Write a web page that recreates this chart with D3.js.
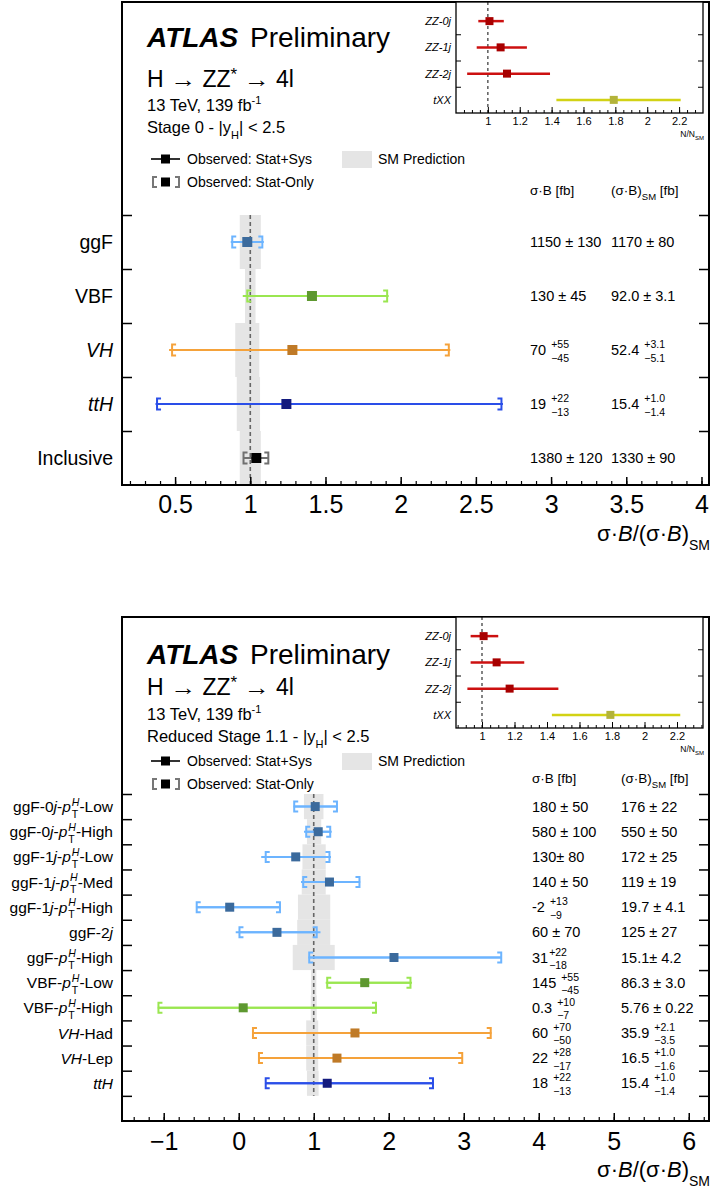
<!DOCTYPE html>
<html>
<head>
<meta charset="utf-8">
<script src="https://cdn.jsdelivr.net/npm/d3@7"></script>
<style>
body{margin:0;background:#fff}
svg{display:block}
text{font-family:"Liberation Sans",Arial,Helvetica,sans-serif;white-space:pre}
</style>
</head>
<body>
<svg id="c" width="710" height="1196"></svg>
<script>
// ================= DATA =================
// ---- Stage 0 panel ----
const s0Categories = ["ggF", "VBF", "*VH*", "*ttH*", "Inclusive"];
const s0Modes      = ["ggF", "VBF", "VH", "ttH", "incl"];
const s0Central    = [0.98, 1.41, 1.28, 1.24, 1.04];
const s0TotLow     = [0.87, 0.95, 0.46, 0.37, 0.955];
const s0TotHigh    = [1.09, 1.92, 2.33, 2.68, 1.12];
const s0StatLow    = [0.88, 0.98, 0.48, 0.38, 0.955];
const s0StatHigh   = [1.08, 1.91, 2.32, 2.67, 1.12];
const s0SMLow      = [0.93, 0.965, 0.90, 0.91, 0.93];
const s0SMHigh     = [1.07, 1.035, 1.06, 1.065, 1.07];
const s0Measured   = ["1150 ± 130", "130 ± 45", "70 ^{+55}_{−45}", "19 ^{+22}_{−13}", "1380 ± 120"];
const s0Predicted  = ["1170 ± 80", "92.0 ± 3.1", "52.4 ^{+3.1}_{−5.1}", "15.4 ^{+1.0}_{−1.4}", "1330 ± 90"];
const s0XTicks     = [0.5, 1, 1.5, 2, 2.5, 3, 3.5, 4];

// ---- Reduced Stage 1.1 panel ----
const s11Categories = [
  "ggF-0*j*-*p*^{*H*}_{T}-Low", "ggF-0*j*-*p*^{*H*}_{T}-High", "ggF-1*j*-*p*^{*H*}_{T}-Low",
  "ggF-1*j*-*p*^{*H*}_{T}-Med", "ggF-1*j*-*p*^{*H*}_{T}-High", "ggF-2*j*", "ggF-*p*^{*H*}_{T}-High",
  "VBF-*p*^{*H*}_{T}-Low", "VBF-*p*^{*H*}_{T}-High", "*VH*-Had", "*VH*-Lep", "*ttH*"];
const s11Modes    = ["ggF","ggF","ggF","ggF","ggF","ggF","ggF","VBF","VBF","VH","VH","ttH"];
const s11Central  = [1.02, 1.06, 0.76, 1.21, -0.12, 0.51, 2.07, 1.68, 0.06, 1.55, 1.31, 1.18];
const s11TotLow   = [0.73, 0.87, 0.30, 0.83, -0.57, -0.04, 0.93, 1.16, -1.08, 0.18, 0.26, 0.35];
const s11TotHigh  = [1.31, 1.24, 1.23, 1.62, 0.56, 1.09, 3.51, 2.31, 1.84, 3.37, 2.99, 2.60];
const s11StatLow  = [0.74, 0.90, 0.36, 0.86, -0.56, 0.01, 0.94, 1.18, -1.07, 0.19, 0.27, 0.36];
const s11StatHigh = [1.31, 1.22, 1.21, 1.61, 0.55, 1.04, 3.50, 2.29, 1.83, 3.36, 2.98, 2.59];
const s11SMLow    = [0.87, 0.91, 0.85, 0.84, 0.79, 0.78, 0.72, 0.965, 0.96, 0.90, 0.90, 0.91];
const s11SMHigh   = [1.13, 1.10, 1.16, 1.16, 1.22, 1.22, 1.28, 1.035, 1.04, 1.06, 1.06, 1.065];
const s11Measured = ["180 ± 50", "580 ± 100", "130± 80", "140 ± 50", "-2 ^{+13}_{−9}", "60 ± 70",
  "31^{+22}_{−18}", "145 ^{+55}_{−45}", "0.3 ^{+10}_{−7}", "60 ^{+70}_{−50}", "22 ^{+28}_{−17}", "18 ^{+22}_{−13}"];
const s11Predicted = ["176 ± 22", "550 ± 50", "172 ± 25", "119 ± 19", "19.7 ± 4.1", "125 ± 27",
  "15.1± 4.2", "86.3 ± 3.0", "5.76 ± 0.22", "35.9 ^{+2.1}_{−3.5}", "16.5 ^{+1.0}_{−1.6}", "15.4 ^{+1.0}_{−1.4}"];
const s11XTicks   = [-1, 0, 1, 2, 3, 4, 5, 6];

// ---- background normalisation insets ----
const bkgCategories   = ["*ZZ-0j*", "*ZZ-1j*", "*ZZ-2j*", "*tXX*"];
const bkgTypes        = ["ZZ", "ZZ", "ZZ", "tXX"];
const s0BkgCentral    = [1.01, 1.08, 1.12, 1.79];
const s0BkgLow        = [0.94, 0.93, 0.87, 1.43];
const s0BkgHigh       = [1.10, 1.245, 1.39, 2.21];
const s11BkgCentral   = [1.01, 1.09, 1.17, 1.79];
const s11BkgLow       = [0.93, 0.93, 0.91, 1.43];
const s11BkgHigh      = [1.10, 1.26, 1.47, 2.22];
const insetXTicks     = [1, 1.2, 1.4, 1.6, 1.8, 2, 2.2];

// ================= STYLE =================
const markerColor = {ggF:"#3b6a9c", VBF:"#5e9830", VH:"#bf7a27", ttH:"#131a7e", incl:"#000000"};
const barColor    = {ggF:"#6cb4ff", VBF:"#9ae650", VH:"#f5a23a", ttH:"#2a4ee8", incl:"#707070"};
const totColor    = {ggF:"#6cb4ff", VBF:"#9ae650", VH:"#f5a23a", ttH:"#2a4ee8", incl:"#000000"};
const bkgLine     = {ZZ:"#cc1010", tXX:"#d2d214"};
const bkgMarker   = {ZZ:"#a80000", tXX:"#b3b33a"};

const svg = d3.select("#c");

// ---------- rich text helper ----------
function parseMarkup(str) {
  const re = /\*([^*]+)\*|\^\{([^}]*)\}_\{([^}]*)\}|\^\{([^}]*)\}|_\{([^}]*)\}|([^*^_]+)/g;
  const segs = []; let m;
  while ((m = re.exec(str)) !== null) {
    if (m[1] !== undefined) segs.push({t: m[1], it: true});
    else if (m[2] !== undefined) segs.push({sup: m[2], sub: m[3]});
    else if (m[4] !== undefined) segs.push({sup: m[4]});
    else if (m[5] !== undefined) segs.push({sub: m[5]});
    else segs.push({t: m[6]});
  }
  return segs;
}
function rich(parent, x, y, str, opt) {
  const size = opt.size, anchor = opt.anchor || "start";
  const ss = opt.scriptSize || size * 0.7;
  const supDy = opt.supDy !== undefined ? opt.supDy : -size * 0.45;
  const subDy = opt.subDy !== undefined ? opt.subDy : size * 0.32;
  const gap = opt.gap || 0;
  const g = parent.append("g");
  let cx = 0;
  parseMarkup(str).forEach(s => {
    if (s.t !== undefined) {
      s.t.split(/(→)/).filter(p => p.length).forEach(part => {
        const t = g.append("text").attr("font-size", size)
          .attr("font-style", s.it || opt.italic ? "italic" : null)
          .attr("font-weight", opt.weight || null).attr("fill", opt.fill || "#000").text(part);
        if (part === "→") {
          const aw = opt.arrowW || size;
          t.attr("x", 0).attr("y", 0);
          const w0 = t.node().getComputedTextLength() || 1;
          t.attr("transform", `translate(${cx},${y}) scale(${aw / w0},1)`);
          cx += aw;
        } else {
          t.attr("x", cx).attr("y", y);
          cx += t.node().getComputedTextLength();
        }
      });
    } else {
      let w = 0;
      [[s.sup, supDy], [s.sub, subDy]].forEach(([c, dy]) => {
        if (c === undefined) return;
        const it = /^\*.+\*$/.test(c);
        const txt = it ? c.slice(1, -1) : c;
        const t = g.append("text").attr("x", cx + gap).attr("y", y + dy).attr("font-size", ss)
          .attr("font-style", it ? "italic" : null).attr("fill", opt.fill || "#000").text(txt);
        w = Math.max(w, t.node().getComputedTextLength());
      });
      cx += w + gap;
    }
  });
  const off = anchor === "end" ? -cx : anchor === "middle" ? -cx / 2 : 0;
  g.attr("transform", `translate(${x + off},0)`);
  return g;
}

// ---------- main panel ----------
function drawPanel(P) {
  const g = svg.append("g");
  const x = d3.scaleLinear().domain(P.xDomain).range([P.x0, P.x1]);
  const y = d3.scaleLinear().domain([0, P.nSlots]).range([P.rowTop, P.y1]);
  const rowH = y(1) - y(0);
  const yc = i => y(i + 0.5);
  const idx = P.cats.map((d, i) => i);

  // SM prediction bands
  g.selectAll("rect.sm").data(idx).join("rect").attr("class", "sm")
    .attr("x", i => x(P.smLo[i])).attr("width", i => x(P.smHi[i]) - x(P.smLo[i]))
    .attr("y", i => y(i)).attr("height", rowH).attr("fill", "#e5e5e5");
  // SM = 1 line
  g.append("line").attr("x1", x(1)).attr("x2", x(1)).attr("y1", y(0)).attr("y2", y(P.cats.length))
    .attr("stroke", "#666").attr("stroke-width", 1.6).attr("stroke-dasharray", "4,3");

  // total error lines
  g.selectAll("line.tot").data(idx).join("line").attr("class", "tot")
    .attr("x1", i => x(P.totLo[i])).attr("x2", i => x(P.totHi[i]))
    .attr("y1", yc).attr("y2", yc)
    .attr("stroke", i => totColor[P.modes[i]]).attr("stroke-width", 2);
  // stat-only brackets
  const bh = P.bracketH / 2, bw = 4;
  g.selectAll("path.br").data(idx).join("path").attr("class", "br")
    .attr("d", i => {
      const l = x(P.statLo[i]), r = x(P.statHi[i]), c = yc(i);
      return `M${l + bw},${c - bh}H${l}V${c + bh}H${l + bw}` +
             `M${r - bw},${c - bh}H${r}V${c + bh}H${r - bw}` +
             `M${l},${c}H${r}`;
    })
    .attr("fill", "none").attr("stroke", i => barColor[P.modes[i]]).attr("stroke-width", 2);
  // central markers
  const ms = P.markerSize;
  g.selectAll("rect.mk").data(idx).join("rect").attr("class", "mk")
    .attr("x", i => x(P.central[i]) - ms / 2).attr("y", i => yc(i) - ms / 2)
    .attr("width", ms).attr("height", ms).attr("fill", i => markerColor[P.modes[i]]);

  // x axis: minor + major ticks
  const axG = g.append("g").attr("transform", `translate(0,${P.y1})`);
  axG.call(d3.axisBottom(x).tickValues(P.minorTicks).tickSizeInner(-4).tickSizeOuter(0).tickFormat(""))
    .call(a => a.select(".domain").remove())
    .call(a => a.selectAll("line").attr("stroke-width", 1.2));
  const axM = g.append("g").attr("transform", `translate(0,${P.y1})`);
  axM.call(d3.axisBottom(x).tickValues(P.xTicks).tickSizeInner(-8).tickSizeOuter(0)
      .tickPadding(P.tickPad).tickFormat(d3.format("")))
    .call(a => a.select(".domain").remove())
    .call(a => a.selectAll("line").attr("stroke-width", 1.5))
    .call(a => a.selectAll("text").attr("font-size", P.tickFont).attr("fill", "#000")
      .attr("font-family", '"Liberation Sans",Arial,sans-serif'));

  // y axis boundary ticks (left and right, pointing inward)
  const yt = d3.range(0, P.nSlots);
  g.append("g").attr("transform", `translate(${P.x0},0)`)
    .call(d3.axisLeft(y).tickValues(yt).tickSizeInner(-10).tickSizeOuter(0).tickFormat(""))
    .call(a => a.select(".domain").remove())
    .call(a => a.selectAll("line").attr("stroke-width", 1.5));
  g.append("g").attr("transform", `translate(${P.x1},0)`)
    .call(d3.axisRight(y).tickValues(yt).tickSizeInner(-10).tickSizeOuter(0).tickFormat(""))
    .call(a => a.select(".domain").remove())
    .call(a => a.selectAll("line").attr("stroke-width", 1.5));

  // frame
  g.append("rect").attr("x", P.x0).attr("y", P.y0).attr("width", P.x1 - P.x0).attr("height", P.y1 - P.y0)
    .attr("fill", "none").attr("stroke", "#000").attr("stroke-width", 2);

  // category labels
  P.cats.forEach((c, i) => rich(g, P.x0 - 9, yc(i) + P.labelFont * 0.36, c,
    {size: P.labelFont, anchor: "end", scriptSize: P.labelFont * 0.68,
     supDy: -P.labelFont * 0.42, subDy: P.labelFont * 0.36, gap: 1}));

  // value columns
  P.measured.forEach((v, i) => rich(g, P.col1, yc(i) + 5, v, {size: 14.5, scriptSize: 10.5, supDy: -7, subDy: 6.5, gap: 1}));
  P.predicted.forEach((v, i) => rich(g, P.col2, yc(i) + 5, v, {size: 14.5, scriptSize: 10.5, supDy: -7, subDy: 6.5, gap: 1}));
  rich(g, P.col1, P.headY, "σ·B [fb]", {size: 13.5});
  rich(g, P.col2, P.headY, "(σ·B)_{SM} [fb]", {size: 13.5, scriptSize: 9.5, subDy: 5});

  // x title
  rich(g, P.x1 + 1, P.titleY, "σ·*B*/(σ·*B*)_{SM}", {size: 22, anchor: "end", scriptSize: 14, subDy: 8.5});

  // header
  const h = P.head;
  g.append("text").attr("x", 147).attr("y", h[0]).attr("font-size", 28).attr("font-weight", "bold")
    .attr("font-style", "italic").text("ATLAS");
  g.append("text").attr("x", 250).attr("y", h[0]).attr("font-size", 28).text("Preliminary");
  rich(g, 147, h[1], "H → ZZ^{*} → 4l", {size: 23, scriptSize: 17, supDy: -7, arrowW: 26});
  rich(g, 147, h[2], "13 TeV, 139 fb^{-1}", {size: 16.5, scriptSize: 11, supDy: -7});
  rich(g, 147, h[3], P.stageText, {size: 16.5, scriptSize: 11, subDy: 6});

  // legend
  const l1 = h[4], l2 = h[5];
  g.append("line").attr("x1", 151).attr("x2", 180).attr("y1", l1).attr("y2", l1).attr("stroke", "#000").attr("stroke-width", 1.6);
  g.append("rect").attr("x", 161).attr("y", l1 - 4.5).attr("width", 9).attr("height", 9).attr("fill", "#000");
  rich(g, 187, l1 + 5, "Observed: Stat+Sys", {size: 14});
  g.append("path").attr("d", `M157,${l2 - 5}H153V${l2 + 5}H157M175,${l2 - 5}H179V${l2 + 5}H175`)
    .attr("fill", "none").attr("stroke", "#777").attr("stroke-width", 2);
  g.append("rect").attr("x", 161).attr("y", l2 - 4.5).attr("width", 9).attr("height", 9).attr("fill", "#000");
  rich(g, 187, l2 + 5, "Observed: Stat-Only", {size: 14});
  g.append("rect").attr("x", 342).attr("y", l1 - 8).attr("width", 30).attr("height", 17).attr("fill", "#e5e5e5");
  rich(g, 378, l1 + 5, "SM Prediction", {size: 14});
}

// ---------- inset ----------
function drawInset(I) {
  const g = svg.append("g");
  const x = d3.scaleLinear().domain(I.xDomain).range([456, 703]);
  const y = d3.scaleLinear().domain([0, 4]).range([I.rowTop, I.y1]);
  const yc = i => y(i + 0.5);
  const idx = bkgCategories.map((d, i) => i);
  g.append("rect").attr("x", 456).attr("y", I.y0).attr("width", 247).attr("height", I.y1 - I.y0).attr("fill", "#fff");
  g.append("line").attr("x1", x(1)).attr("x2", x(1)).attr("y1", I.y0).attr("y2", I.y1)
    .attr("stroke", "#333").attr("stroke-width", 1.2).attr("stroke-dasharray", "3,3");
  g.selectAll("line.b").data(idx).join("line").attr("class", "b")
    .attr("x1", i => x(I.lo[i])).attr("x2", i => x(I.hi[i])).attr("y1", yc).attr("y2", yc)
    .attr("stroke", i => bkgLine[bkgTypes[i]]).attr("stroke-width", 2.5);
  g.selectAll("rect.m").data(idx).join("rect").attr("class", "m")
    .attr("x", i => x(I.central[i]) - 4).attr("y", i => yc(i) - 4).attr("width", 8).attr("height", 8)
    .attr("fill", i => bkgMarker[bkgTypes[i]]);
  const ax = g.append("g").attr("transform", `translate(0,${I.y1})`);
  ax.call(d3.axisBottom(x).tickValues(d3.range(I.minorStart, I.xDomain[1], 0.05)).tickSizeInner(-3).tickSizeOuter(0).tickFormat(""))
    .call(a => a.select(".domain").remove());
  const ax2 = g.append("g").attr("transform", `translate(0,${I.y1})`);
  ax2.call(d3.axisBottom(x).tickValues(insetXTicks).tickSizeInner(-6).tickSizeOuter(0).tickPadding(4).tickFormat(d3.format("")))
    .call(a => a.select(".domain").remove())
    .call(a => a.selectAll("text").attr("font-size", 11).attr("fill", "#000")
      .attr("font-family", '"Liberation Sans",Arial,sans-serif'));
  g.append("g").attr("transform", "translate(456,0)")
    .call(d3.axisLeft(y).tickValues([1, 2, 3]).tickSizeInner(-5).tickSizeOuter(0).tickFormat(""))
    .call(a => a.select(".domain").remove());
  g.append("g").attr("transform", "translate(703,0)")
    .call(d3.axisRight(y).tickValues([1, 2, 3]).tickSizeInner(-5).tickSizeOuter(0).tickFormat(""))
    .call(a => a.select(".domain").remove());
  g.append("rect").attr("x", 456).attr("y", I.y0).attr("width", 247).attr("height", I.y1 - I.y0)
    .attr("fill", "none").attr("stroke", "#000").attr("stroke-width", 1.3);
  bkgCategories.forEach((c, i) => rich(g, 451, yc(i) + 4, c, {size: 11, anchor: "end"}));
  rich(g, 704, I.y1 + 24, "N/N_{SM}", {size: 8.5, anchor: "end", scriptSize: 6, subDy: 3});
}

// ================= DRAW =================
drawPanel({
  cats: s0Categories, modes: s0Modes, central: s0Central, totLo: s0TotLow, totHi: s0TotHigh,
  statLo: s0StatLow, statHi: s0StatHigh, smLo: s0SMLow, smHi: s0SMHigh,
  measured: s0Measured, predicted: s0Predicted, xTicks: s0XTicks,
  minorTicks: d3.range(2, 41).map(d => d / 10),
  xDomain: [0.147, 4.05], x0: 122, x1: 709, y0: 2, y1: 485, rowTop: 215, nSlots: 5,
  markerSize: 10, bracketH: 11, tickFont: 25, tickPad: 10, labelFont: 19.5,
  col1: 530, col2: 611, headY: 195, titleY: 541,
  head: [47, 87, 111, 133, 159, 182], stageText: "Stage 0 - |y_{H}| < 2.5"
});
drawPanel({
  cats: s11Categories, modes: s11Modes, central: s11Central, totLo: s11TotLow, totHi: s11TotHigh,
  statLo: s11StatLow, statHi: s11StatHigh, smLo: s11SMLow, smHi: s11SMHigh,
  measured: s11Measured, predicted: s11Predicted, xTicks: s11XTicks,
  minorTicks: d3.range(-7, 32).map(d => d / 5),
  xDomain: [-1.556, 6.27], x0: 122, x1: 709, y0: 617, y1: 1121, rowTop: 794, nSlots: 13,
  markerSize: 9, bracketH: 10, tickFont: 25, tickPad: 11, labelFont: 15.5,
  col1: 532, col2: 621, headY: 783, titleY: 1177,
  head: [664, 695, 720, 742, 761, 784], stageText: "Reduced Stage 1.1 - |y_{H}| < 2.5"
});
drawInset({central: s0BkgCentral, lo: s0BkgLow, hi: s0BkgHigh, xDomain: [0.8, 2.35], minorStart: 0.85,
  y0: 2, y1: 113, rowTop: 8});
drawInset({central: s11BkgCentral, lo: s11BkgLow, hi: s11BkgHigh, xDomain: [0.84, 2.36], minorStart: 0.85,
  y0: 617, y1: 728, rowTop: 623});
</script>
</body>
</html>
